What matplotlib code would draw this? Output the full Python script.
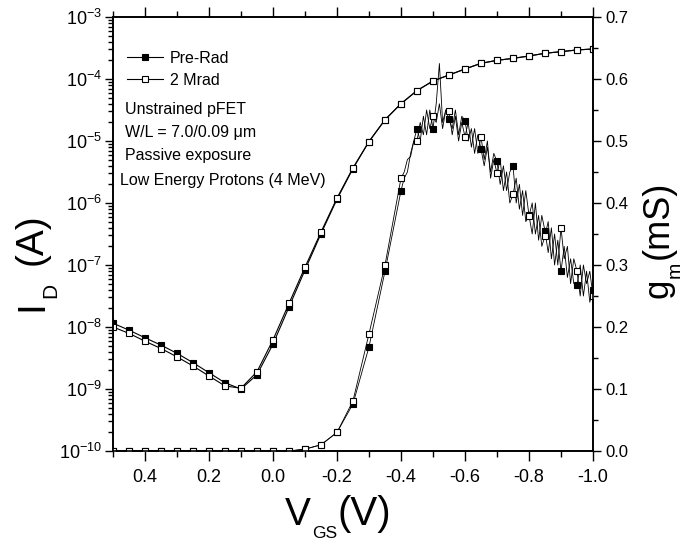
import numpy as np
import matplotlib.pyplot as plt
from matplotlib.ticker import MultipleLocator, LogLocator, NullFormatter, FormatStrFormatter

plt.rcParams['font.family'] = ['Liberation Sans', 'DejaVu Sans']
plt.rcParams['mathtext.fontset'] = 'custom'
plt.rcParams['mathtext.rm'] = 'Liberation Sans'
plt.rcParams['mathtext.it'] = 'Liberation Sans:italic'
plt.rcParams['axes.unicode_minus'] = False

# drain current, one point every 50 mV
vgs = [0.50, 0.45, 0.40, 0.35, 0.30, 0.25, 0.20, 0.15, 0.10, 0.05, 0.00,
       -0.05, -0.10, -0.15, -0.20, -0.25, -0.30, -0.35, -0.40, -0.45, -0.50,
       -0.55, -0.60, -0.65, -0.70, -0.75, -0.80, -0.85, -0.90, -0.95, -1.00]
id_pre = [1.15e-8, 8.9e-9, 6.7e-9, 5.1e-9, 3.76e-9, 2.66e-9, 1.83e-9, 1.26e-9, 1.0e-9, 1.7e-9, 5.3e-9,
          2.1e-8, 8.3e-8, 3.2e-7, 1.15e-6, 3.6e-6, 9.8e-6, 2.2e-5, 4.0e-5, 6.5e-5, 9.3e-5,
          1.16e-4, 1.45e-4, 1.79e-4, 2.0e-4, 2.15e-4, 2.35e-4, 2.6e-4, 2.76e-4, 2.94e-4, 3.05e-4]
id_2mrad = [1.0e-8, 7.9e-9, 5.9e-9, 4.5e-9, 3.3e-9, 2.35e-9, 1.62e-9, 1.12e-9, 1.03e-9, 1.9e-9, 6.2e-9,
            2.4e-8, 9.2e-8, 3.4e-7, 1.2e-6, 3.7e-6, 9.8e-6, 2.2e-5, 4.0e-5, 6.5e-5, 9.3e-5,
            1.16e-4, 1.45e-4, 1.79e-4, 2.0e-4, 2.15e-4, 2.35e-4, 2.6e-4, 2.76e-4, 2.94e-4, 3.05e-4]

# transconductance: smooth part (50 mV steps) ...
vgs_gm = [0.50, 0.45, 0.40, 0.35, 0.30, 0.25, 0.20, 0.15, 0.10, 0.05, 0.00,
          -0.05, -0.10, -0.15, -0.20, -0.25, -0.30, -0.35]
gm_pre = [0.0, 0.0, 0.0, 0.0, 0.0, 0.0, 0.0, 0.0, 0.0, 0.0, 0.0,
          0.0, 0.003, 0.01, 0.03, 0.076, 0.168, 0.29]
gm_2mrad = [0.0, 0.0, 0.0, 0.0, 0.0, 0.0, 0.0, 0.0, 0.0, 0.0, 0.0,
            0.0, 0.003, 0.01, 0.03, 0.081, 0.189, 0.30]

# ... and the noisy part, 10 mV steps from -0.40 to -1.00 V
vgs_noisy = np.linspace(-0.40, -1.00, 61)
gm_pre_noisy = [0.42, 0.44, 0.45, 0.48, 0.50, 0.52, 0.50, 0.54, 0.51, 0.55,
                0.52, 0.56, 0.625, 0.53, 0.55, 0.535, 0.52, 0.55, 0.51, 0.54,
                0.533, 0.50, 0.52, 0.48, 0.51, 0.487, 0.46, 0.49, 0.45, 0.48,
                0.467, 0.43, 0.46, 0.42, 0.45, 0.46, 0.40, 0.43, 0.38, 0.42,
                0.38, 0.35, 0.40, 0.34, 0.38, 0.355, 0.32, 0.36, 0.30, 0.34,
                0.29, 0.33, 0.28, 0.31, 0.27, 0.267, 0.30, 0.25, 0.29, 0.24,
                0.26]
gm_2mrad_noisy = [0.44, 0.45, 0.47, 0.475, 0.50, 0.50, 0.53, 0.51, 0.55, 0.52,
                  0.54, 0.53, 0.56, 0.52, 0.55, 0.548, 0.51, 0.54, 0.50, 0.53,
                  0.507, 0.53, 0.49, 0.52, 0.48, 0.507, 0.47, 0.50, 0.44, 0.47,
                  0.448, 0.47, 0.42, 0.45, 0.40, 0.414, 0.44, 0.39, 0.42, 0.37,
                  0.379, 0.40, 0.35, 0.38, 0.33, 0.347, 0.37, 0.31, 0.35, 0.30,
                  0.36, 0.31, 0.33, 0.27, 0.31, 0.29, 0.25, 0.30, 0.27, 0.29,
                  0.25]

notes = ['Unstrained pFET', 'W/L = 7.0/0.09 \u03bcm', 'Passive exposure', 'Low Energy Protons (4 MeV)']

W, H = 696, 544
fig = plt.figure(figsize=(W / 100, H / 100), dpi=100)
ax = fig.add_axes([113 / W, 1 - 451 / H, 480 / W, 434 / H])

ax.plot(vgs, id_pre, 'k-', lw=0.8, marker='s', ms=4.5, mfc='k', mec='k', mew=0.8, label='Pre-Rad')
ax.plot(vgs, id_2mrad, 'k-', lw=0.8, marker='s', ms=4.5, mfc='white', mec='k', mew=0.8, label='2 Mrad')
ax.set_yscale('log')
ax.set_ylim(1e-10, 1e-3)
ax.set_xlim(0.5, -1.0)

ax2 = ax.twinx()
for gm_a, gm_b, fc in [(gm_pre, gm_pre_noisy, 'k'), (gm_2mrad, gm_2mrad_noisy, 'white')]:
    ax2.plot(list(vgs_gm) + list(vgs_noisy), list(gm_a) + list(gm_b), 'k-', lw=0.6)
    ax2.plot(list(vgs_gm) + list(vgs_noisy[::5]), list(gm_a) + list(gm_b[::5]), ls='none',
             marker='s', ms=4.5, mfc=fc, mec='k', mew=0.8)
ax2.set_ylim(0, 0.7)

# ticks
ax.xaxis.set_major_locator(MultipleLocator(0.2))
ax.xaxis.set_minor_locator(MultipleLocator(0.1))
ax.xaxis.set_major_formatter(FormatStrFormatter('%.1f'))
ax.yaxis.set_major_locator(LogLocator(base=10, numticks=12))
ax.yaxis.set_minor_locator(LogLocator(base=10, subs=range(2, 10), numticks=12))
ax.yaxis.set_minor_formatter(NullFormatter())
ax.tick_params(which='both', direction='out', top=True, labelsize=13, width=1)
ax.tick_params(axis='x', which='major', length=7, pad=6)
ax.tick_params(axis='x', which='minor', length=4)
ax.tick_params(axis='y', which='major', length=6, pad=2)
ax.tick_params(axis='y', which='minor', length=3.5)

ax2.yaxis.set_major_locator(MultipleLocator(0.1))
ax2.yaxis.set_minor_locator(MultipleLocator(0.05))
ax2.yaxis.set_major_formatter(FormatStrFormatter('%.1f'))
ax2.tick_params(which='both', direction='out', labelsize=12, width=1, pad=3)
ax2.tick_params(which='major', length=6)
ax2.tick_params(which='minor', length=3.5)

for a in (ax, ax2):
    for s in a.spines.values():
        s.set_linewidth(1.2)

ax.legend(loc='upper left', bbox_to_anchor=(0.029, 0.922), frameon=False, fontsize=11.5,
          handlelength=2.25, handletextpad=0.45, borderpad=0, borderaxespad=0,
          labelspacing=0.42, numpoints=1)
for txt, xx, yy in zip(notes, [0.025, 0.025, 0.025, 0.015], [0.788, 0.733, 0.680, 0.624]):
    ax.text(xx, yy, txt, transform=ax.transAxes, fontsize=11.5, va='center')

# axis titles, built from pieces so the subscripts stay small
def ftxt(x, y, s, size, rot=0):
    fig.text(x / W, 1 - y / H, s, fontsize=size, rotation=rot, rotation_mode='anchor',
             ha='left', va='baseline')

ftxt(285, 525, 'V', 28)
ftxt(312, 538, 'GS', 12.5)
ftxt(338, 525, '(V)', 29)
ftxt(42, 311, 'I', 28, 90)
ftxt(56, 298, 'D', 15, 90)
ftxt(42, 265, '(A)', 28, 90)
ftxt(668, 298, 'g', 25, 90)
ftxt(680, 278, 'm', 14, 90)
ftxt(668, 259, '(mS)', 26, 90)

fig.savefig('out.png', dpi=100)
